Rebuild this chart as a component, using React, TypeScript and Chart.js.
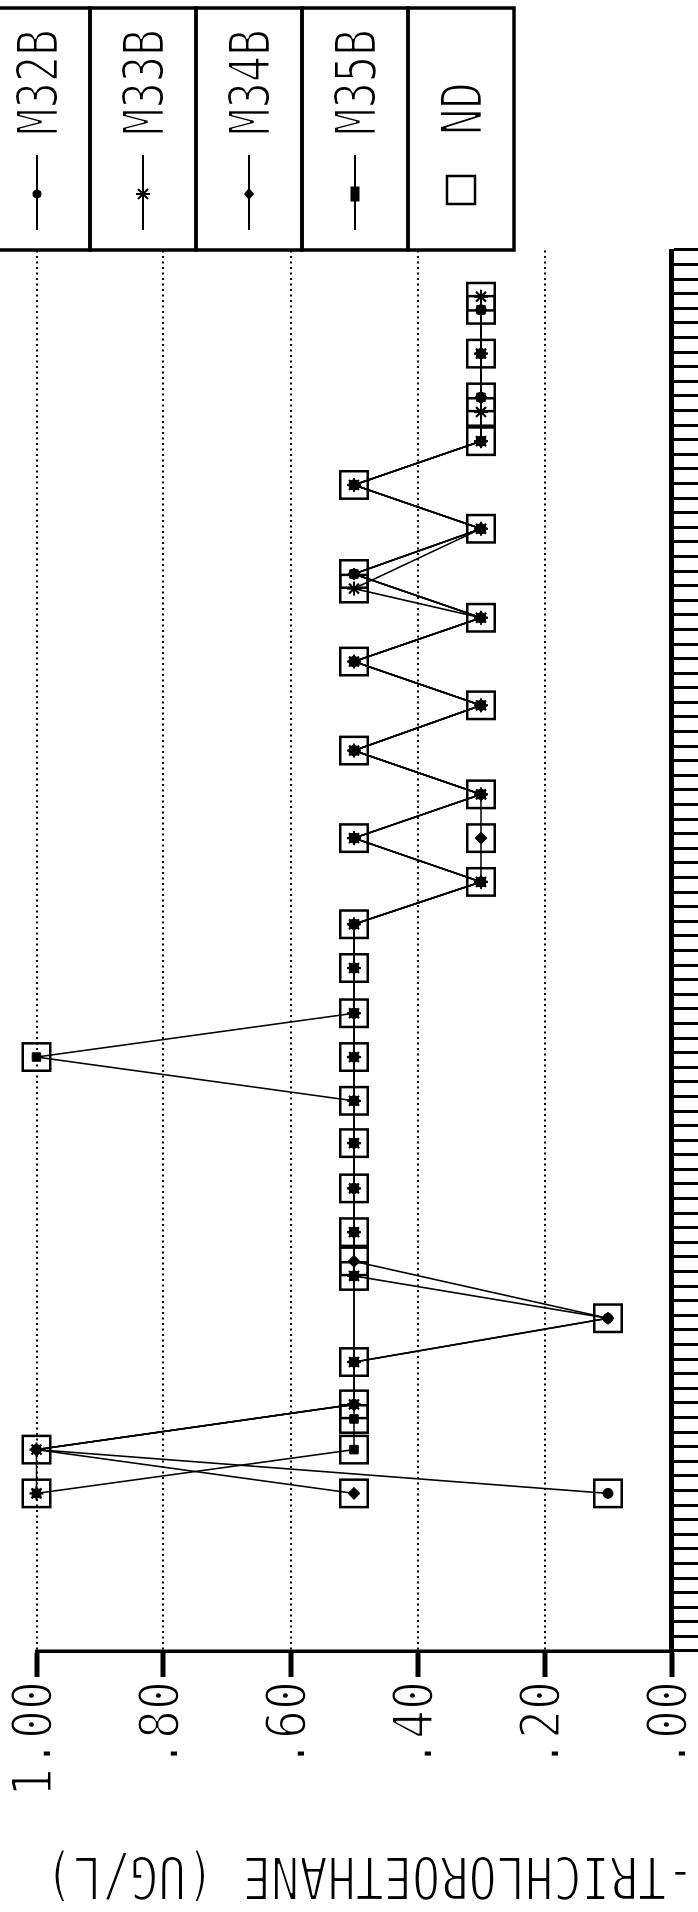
import React, { useEffect, useRef } from "react";
import { Chart, registerables } from "chart.js";

Chart.register(...registerables);

// ---- data (months since start of record, concentration in ug/L) ----
const m32bMonths = [10.8, 13.8, 16.9, 19.8, 22.8, 25.7, 28.7, 31.7, 34.8, 37.7, 40.7, 43.7, 46.8, 49.8, 52.7, 55.7, 58.7, 61.7, 64.8, 67.8, 70.8, 73.8, 76.9, 79.9, 82.9, 85.9, 88.9, 91.9];
const m32bValues = [0.1, 1.0, 0.5, 0.5, 0.1, 0.5, 0.5, 0.5, 0.5, 0.5, 0.5, 0.5, 0.5, 0.5, 0.3, 0.5, 0.3, 0.5, 0.3, 0.5, 0.3, 0.5, 0.3, 0.5, 0.3, 0.3, 0.3, 0.3];

const m33bMonths = [10.8, 13.8, 16.9, 19.8, 25.7, 28.7, 31.7, 34.8, 37.7, 40.7, 43.7, 46.8, 49.8, 52.7, 55.7, 58.7, 61.7, 64.8, 67.8, 70.8, 72.8, 76.9, 79.9, 82.9, 84.9, 88.9, 92.8];
const m33bValues = [1.0, 1.0, 0.5, 0.5, 0.5, 0.5, 0.5, 0.5, 0.5, 0.5, 0.5, 0.5, 0.5, 0.3, 0.5, 0.3, 0.5, 0.3, 0.5, 0.3, 0.5, 0.3, 0.5, 0.3, 0.3, 0.3, 0.3];

const m34bMonths = [10.8, 13.8, 16.9, 19.8, 22.8, 26.7, 28.7, 31.7, 34.8, 37.7, 40.7, 43.7, 46.8, 49.8, 52.7, 55.7, 58.7, 61.7, 64.8, 67.8, 70.8, 73.8, 76.9, 79.9, 82.9, 85.9, 88.9, 91.9];
const m34bValues = [0.5, 1.0, 0.5, 0.5, 0.1, 0.5, 0.5, 0.5, 0.5, 0.5, 0.5, 0.5, 0.5, 0.5, 0.3, 0.3, 0.3, 0.5, 0.3, 0.5, 0.3, 0.5, 0.3, 0.5, 0.3, 0.3, 0.3, 0.3];

const m35bMonths = [10.8, 13.8, 15.9, 19.8, 25.7, 28.7, 31.7, 34.8, 37.7, 40.7, 43.7, 46.8, 49.8, 52.7, 55.7, 58.7, 61.7, 64.8, 67.8, 70.8, 73.8, 76.9, 79.9, 82.9, 85.9, 88.9, 91.9];
const m35bValues = [1.0, 0.5, 0.5, 0.5, 0.5, 0.5, 0.5, 0.5, 0.5, 1.0, 0.5, 0.5, 0.5, 0.3, 0.5, 0.3, 0.5, 0.3, 0.5, 0.3, 0.5, 0.3, 0.5, 0.3, 0.3, 0.3, 0.3];

const seriesLabels = ["M32B", "M33B", "M34B", "M35B"];
const ndLabel = "ND";
const yTickLabels = [".00", ".20", ".40", ".60", ".80", "1.00"];
const axisTitle = "1,1,1-TRICHLOROETHANE (UG/L)";
const monthMin = 0;
const monthMax = 96;

// ---- styling ----
const CW = 1912;
const CH = 698;
const FONT = '"DejaVu Sans Mono", "Liberation Mono", monospace';
const markerStyles = ["circle", "star", "rectRot", "rect"];
const markerRadii = [5, 7, 6, 6];

function toPoints(ms: number[], vs: number[]) {
  return ms.map((m, i) => ({ x: m, y: vs[i] }));
}

const seriesPoints = [
  toPoints(m32bMonths, m32bValues),
  toPoints(m33bMonths, m33bValues),
  toPoints(m34bMonths, m34bValues),
  toPoints(m35bMonths, m35bValues),
];

function ndPoints() {
  const seen = new Set<string>();
  const out: { x: number; y: number }[] = [];
  seriesPoints.forEach((pts) =>
    pts.forEach((p) => {
      const k = p.x + "|" + p.y;
      if (!seen.has(k)) {
        seen.add(k);
        out.push({ x: p.x, y: p.y });
      }
    })
  );
  return out;
}

function thinText(ctx: CanvasRenderingContext2D, text: string) {
  ctx.fillStyle = "#000";
  ctx.fillText(text, 0, 0);
  ctx.strokeStyle = "#fff";
  ctx.lineWidth = 2;
  ctx.lineJoin = "round";
  ctx.strokeText(text, 0, 0);
}

function drawSquashedText(ctx: CanvasRenderingContext2D, text: string, x: number, y: number, size: number, sx: number, align: CanvasTextAlign) {
  ctx.save();
  ctx.translate(x, y);
  ctx.scale(sx, 1);
  ctx.font = `${size}px ${FONT}`;
  ctx.textAlign = align;
  ctx.textBaseline = "alphabetic";
  thinText(ctx, text);
  ctx.restore();
}

function drawLegendMarker(ctx: CanvasRenderingContext2D, style: string, x: number, y: number) {
  ctx.save();
  ctx.fillStyle = "#000";
  ctx.strokeStyle = "#000";
  if (style === "circle") {
    ctx.beginPath();
    ctx.arc(x, y, 4.5, 0, Math.PI * 2);
    ctx.fill();
  } else if (style === "star") {
    ctx.lineWidth = 2;
    ctx.beginPath();
    for (let k = 0; k < 4; k++) {
      const a = (k * Math.PI) / 4;
      ctx.moveTo(x - 7 * Math.cos(a), y - 7 * Math.sin(a));
      ctx.lineTo(x + 7 * Math.cos(a), y + 7 * Math.sin(a));
    }
    ctx.stroke();
  } else if (style === "rectRot") {
    ctx.beginPath();
    ctx.moveTo(x - 6, y);
    ctx.lineTo(x, y - 5);
    ctx.lineTo(x + 6, y);
    ctx.lineTo(x, y + 5);
    ctx.closePath();
    ctx.fill();
  } else if (style === "rect") {
    ctx.fillRect(x - 7.5, y - 4.5, 15, 9);
  } else if (style === "nd") {
    ctx.lineWidth = 2.5;
    ctx.strokeRect(x - 14, y - 14, 28, 28);
  }
  ctx.restore();
}

const textPlugin = {
  id: "plotterText",
  afterDraw(chart: any) {
    const ctx: CanvasRenderingContext2D = chart.ctx;
    const yScale = chart.scales.y;
    // y tick labels
    yScale.ticks.forEach((t: any) => {
      const idx = Math.round(t.value * 5);
      const label = yTickLabels[idx];
      const py = yScale.getPixelForValue(t.value);
      drawSquashedText(ctx, label, 231, py + 14.5, 55, 0.876, "right");
    });
    // axis title (rotated, reading bottom to top)
    ctx.save();
    ctx.translate(55, 45);
    ctx.rotate(-Math.PI / 2);
    ctx.scale(0.795, 1);
    ctx.font = `59px ${FONT}`;
    ctx.textAlign = "right";
    ctx.textBaseline = "alphabetic";
    thinText(ctx, axisTitle);
    ctx.restore();

    // legend boxes
    const left = chart.chartArea.right;
    const right = 1904;
    const top0 = -16;
    const boxH = 106;
    const labels = [...seriesLabels, ndLabel];
    ctx.save();
    ctx.strokeStyle = "#000";
    ctx.lineWidth = 3.5;
    labels.forEach((lab, i) => {
      const t = top0 + i * boxH;
      ctx.strokeRect(left, t, right - left, boxH);
    });
    ctx.restore();
    labels.forEach((lab, i) => {
      const cy = top0 + i * boxH + boxH / 2;
      if (i < seriesLabels.length) {
        ctx.save();
        ctx.strokeStyle = "#000";
        ctx.lineWidth = 2;
        ctx.beginPath();
        ctx.moveTo(left + 20, cy);
        ctx.lineTo(left + 95, cy);
        ctx.stroke();
        ctx.restore();
        drawLegendMarker(ctx, markerStyles[i], left + 56, cy);
      } else {
        drawLegendMarker(ctx, "nd", left + 60, cy);
      }
      drawSquashedText(ctx, lab, left + 115, cy + 21, 57, 0.77, "left");
    });
  },
};

export default function App() {
  const ref = useRef<HTMLCanvasElement | null>(null);
  useEffect(() => {
    document.body.style.margin = "0";
    const canvas = ref.current!;
    const datasets: any[] = seriesPoints.map((pts, i) => ({
      label: seriesLabels[i],
      data: pts,
      showLine: true,
      borderColor: "#000",
      borderWidth: 1.6,
      tension: 0,
      pointStyle: markerStyles[i],
      pointRadius: markerRadii[i],
      pointBorderWidth: i === 1 ? 2.2 : 1,
      pointBackgroundColor: "#000",
      pointBorderColor: "#000",
      clip: false,
    }));
    datasets.push({
      label: ndLabel,
      data: ndPoints(),
      showLine: false,
      pointStyle: "rect",
      pointRadius: 19.4,
      pointBorderWidth: 2.5,
      pointBorderColor: "#000",
      pointBackgroundColor: "rgba(0,0,0,0)",
      clip: false,
    });
    const chart = new Chart(canvas, {
      type: "scatter",
      data: { datasets },
      options: {
        responsive: false,
        animation: false,
        devicePixelRatio: 1,
        events: [],
        layout: { padding: { left: 0, right: 250, top: 36.5, bottom: 0 } },
        plugins: { legend: { display: false }, tooltip: { enabled: false } },
        scales: {
          x: {
            type: "linear",
            position: "bottom",
            min: monthMin,
            max: monthMax,
            ticks: { display: false, stepSize: 1, autoSkip: false, maxTicksLimit: 500 },
            grid: { drawOnChartArea: false, drawTicks: true, tickLength: 30, tickWidth: 3, tickColor: "#000" },
            border: { display: true, color: "#000", width: 5 },
            afterFit: (s: any) => {
              s.height = 26.5;
            },
          },
          y: {
            type: "linear",
            position: "left",
            min: 0,
            max: 1,
            ticks: { display: false, stepSize: 0.2, callback: (v: any) => yTickLabels[Math.round(Number(v) * 5)] },
            grid: { color: "#000", lineWidth: 2, drawTicks: true, tickLength: 26, tickWidth: 5, tickColor: "#000", tickBorderDash: [] },
            border: { display: true, color: "#000", width: 3.5, dash: [2, 3.5] },
            afterFit: (s: any) => {
              s.width = 261;
            },
          },
        },
      } as any,
      plugins: [textPlugin],
    });
    return () => chart.destroy();
  }, []);
  return (
    <div style={{ position: "relative", width: 698, height: 1912, overflow: "hidden", background: "#fff" }}>
      <canvas
        ref={ref}
        width={CW}
        height={CH}
        style={{
          position: "absolute",
          left: 0,
          top: 0,
          width: CW,
          height: CH,
          transformOrigin: "0 0",
          transform: `translate(0px, ${CW}px) rotate(-90deg)`,
        }}
      />
    </div>
  );
}
